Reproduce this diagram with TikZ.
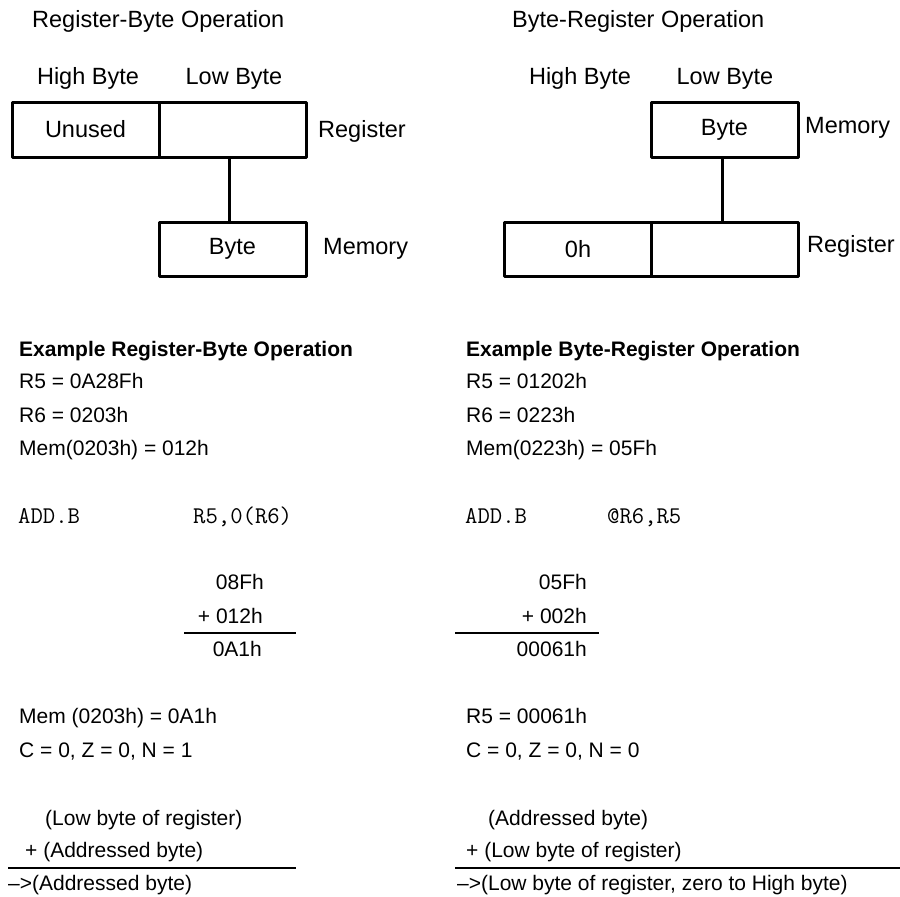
\documentclass[tikz,border=0pt]{standalone}
\usepackage{fontspec}
\setmainfont{Liberation Sans}
\tikzset{
  cell/.style={draw, line width=3pt, line join=round, minimum width=147pt, minimum height=55pt, inner sep=0pt, font=\fontsize{23.5}{28}\selectfont},
  big/.style={inner sep=0pt, font=\fontsize{23.5}{28}\selectfont},
  txt/.style={inner sep=0pt, anchor=base west, font=\fontsize{21}{25}\selectfont},
  rtxt/.style={inner sep=0pt, anchor=base east, font=\fontsize{21}{25}\selectfont},
  btxt/.style={inner sep=0pt, anchor=base west, font=\fontsize{21}{25}\selectfont\bfseries},
  mono/.style={inner sep=0pt, anchor=base west, font=\fontsize{24}{28}\selectfont\ttfamily},
  conn/.style={line width=3pt},
  rule/.style={line width=2.7pt}
}
\begin{document}
\begin{tikzpicture}[x=1pt, y=-1pt]
\useasboundingbox (0,0) rectangle (900,897);
% ---------- left diagram ----------
\node[big, anchor=base west] (t1) at (32,27) {Register-Byte Operation};
\node[big, anchor=base] (lhb) at (88,84) {High Byte};
\node[big, anchor=base] (llb) at (234,84) {Low Byte};
\node[cell] (lhi) at (85.5,129.5) {Unused};
\node[cell] (llo) at (232.5,129.5) {};
\node[big, anchor=base west] (lreg) at (318,137) {Register};
\node[cell, minimum height=54pt] (lmem) at (232.5,249) {Byte};
\node[big, anchor=base west] (lmeml) at (323,254) {Memory};
\draw[conn] ([xshift=-3pt]llo.south) -- ([xshift=-3pt]lmem.north);
% ---------- right diagram ----------
\node[big, anchor=base west] (t2) at (512,27) {Byte-Register Operation};
\node[big, anchor=base] (rhb) at (580,84) {High Byte};
\node[big, anchor=base] (rlb) at (725,84) {Low Byte};
\node[cell] (rmem) at (724.5,129.5) {Byte};
\node[big, anchor=base west] (rmeml) at (805,133) {Memory};
\node[cell, minimum height=54pt] (rhi) at (578,249) {0h};
\node[cell, minimum height=54pt] (rlo) at (724.5,249) {};
\node[big, anchor=base west] (rreg) at (807,252) {Register};
\draw[conn] ([xshift=-2pt]rmem.south) -- ([xshift=-2pt]rlo.north);
% ---------- left example ----------
\node[btxt] (le0) at (19,356) {Example Register-Byte Operation};
\node[txt] (le1) at (19,388) {R5 = 0A28Fh};
\node[txt] (le2) at (19,422) {R6 = 0203h};
\node[txt] (le3) at (19,455) {Mem(0203h) = 012h};
\node[mono] (lop) at (18,523) {ADD.B};
\node[mono] (larg) at (193,523) {R5,0(R6)};
\node[rtxt] (la1) at (264,589) {08Fh};
\node[rtxt] (la2) at (263,623) {+ 012h};
\draw[rule] (184,633) -- (296,633);
\node[rtxt] (la3) at (262,656) {0A1h};
\node[txt] (lr1) at (19,723) {Mem (0203h) = 0A1h};
\node[txt] (lr2) at (19,757) {C = 0, Z = 0, N = 1};
\node[txt] (ls1) at (45,825) {(Low byte of register)};
\node[txt] (ls2) at (25,857) {+ (Addressed byte)};
\draw[rule] (8,868) -- (296,868);
\node[txt] (ls3) at (8,890) {\textendash{}>(Addressed byte)};
% ---------- right example ----------
\node[btxt] (re0) at (466,356) {Example Byte-Register Operation};
\node[txt] (re1) at (466,388) {R5 = 01202h};
\node[txt] (re2) at (466,422) {R6 = 0223h};
\node[txt] (re3) at (466,455) {Mem(0223h) = 05Fh};
\node[mono] (rop) at (465,523) {ADD.B};
\node[mono] (rarg) at (607,523) {@R6,R5};
\node[rtxt] (ra1) at (587,589) {05Fh};
\node[rtxt] (ra2) at (587,623) {+ 002h};
\draw[rule] (455,633) -- (599,633);
\node[rtxt] (ra3) at (587,656) {00061h};
\node[txt] (rr1) at (466,723) {R5 = 00061h};
\node[txt] (rr2) at (466,757) {C = 0, Z = 0, N = 0};
\node[txt] (rs1) at (488,825) {(Addressed byte)};
\node[txt] (rs2) at (466,857) {+ (Low byte of register)};
\draw[rule] (455,868) -- (900,868);
\node[txt] (rs3) at (457,890) {\textendash{}>(Low byte of register, zero to High byte)};
\end{tikzpicture}
\end{document}
